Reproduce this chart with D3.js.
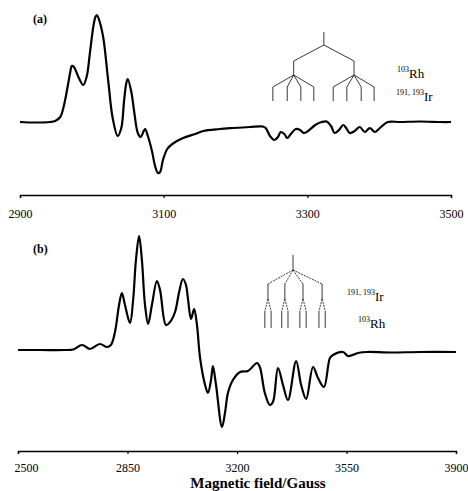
<!DOCTYPE html>
<html>
<head>
<meta charset="utf-8">
<script src="https://cdn.jsdelivr.net/npm/d3@7"></script>
<style>
body { margin: 0; background: #fff; }
text { font-family: "Liberation Serif", "Times New Roman", serif; fill: #000; }
</style>
</head>
<body>
<script>
// Panel (a): field (Gauss) and derivative signal (arb. units, baseline 0)
var fieldA = [2900, 2921, 2942, 2949, 2956, 2961, 2967, 2970, 2972, 2975, 2982, 2988, 2993, 2997, 3002, 3005, 3007, 3011,
    3016, 3023, 3029, 3036, 3041, 3045, 3048, 3050, 3055, 3059, 3064, 3068, 3074, 3078, 3084, 3088, 3092, 3095, 3099,
    3105, 3112, 3127, 3144, 3155, 3178, 3197, 3220, 3238, 3242, 3248, 3254, 3259, 3263, 3268, 3272, 3277,
    3284, 3290, 3295, 3301, 3311, 3320, 3327, 3333, 3338, 3344, 3350, 3354, 3359, 3366, 3373, 3380, 3387,
    3394, 3401, 3412, 3429, 3457, 3485, 3500];
var signalA = [0, -0.05, 0, 0.1, 0.5, 1.6, 3.8, 5.0, 5.6, 5.5, 4.4, 3.7, 4.6, 6.7, 9.5, 10.5, 10.7, 10.0,
    8.4, 4.0, 0.4, -1.4, -0.6, 2.2, 3.9, 4.3, 3.0, 1.0, -1.1, -1.5, -0.7, -1.4, -3.0, -4.4, -5.1, -5.0, -3.8,
    -2.7, -2.2, -1.6, -1.2, -0.9, -0.7, -0.6, -0.5, -0.45, -0.6, -1.4, -1.8, -1.5, -1.0, -1.2, -1.6, -1.2,
    -0.7, -0.8, -1.1, -0.9, -0.3, 0, 0.05, -0.4, -1.1, -0.8, -0.3, -0.6, -1.1, -0.9, -0.5, -1.0, -0.6,
    -1.0, -0.6, 0, 0, 0.05, 0, 0];
var ticksA = [2900, 3100, 3300, 3500];

// Panel (b)
var fieldB = [2500, 2570, 2650, 2676, 2705, 2730, 2762, 2784, 2797, 2810, 2823, 2832, 2842, 2858, 2868,
    2877, 2887, 2896, 2906, 2916, 2928, 2944, 2954, 2973, 2986, 3002, 3015, 3027, 3037, 3043, 3053, 3063,
    3072, 3082, 3098, 3107, 3117, 3123, 3133, 3152, 3162, 3171, 3187, 3210, 3235, 3264, 3273, 3289, 3305,
    3315, 3331, 3347, 3363, 3389, 3405, 3421, 3443, 3459, 3478, 3497, 3507, 3539, 3555, 3587, 3615, 3689,
    3785, 3900];
var signalB = [0, 0, 0, 0.05, 0.5, 0.1, 0.6, 0.3, 0.5, 1.8, 4.5, 5.7, 4.5, 2.7, 5.0,
    9.0, 11.4, 9.0, 4.5, 2.6, 4.5, 6.9, 6.0, 2.5, 2.8, 3.8, 5.8, 7.1, 6.5, 5.2, 3.1, 4.1,
    2.5, -0.8, -3.5, -4.3, -3.0, -1.6, -3.5, -7.7, -6.2, -4.3, -3.0, -2.2, -2.1, -1.3, -1.7, -4.3, -5.5,
    -5.2, -1.8, -3.5, -5.0, -1.1, -3.5, -4.9, -1.7, -2.8, -3.7, -0.8, -0.5, -0.2, -0.6, -0.3, -0.2, -0.25,
    -0.2, -0.2];
var ticksB = [2500, 2850, 3200, 3550, 3900];

// splitting diagrams, segments [field1, signal1, field2, signal2]
var treeA = [
    [3323, 9.0, 3323, 7.7], [3323, 7.7, 3281, 6.1], [3323, 7.7, 3365, 6.1],
    [3281, 6.1, 3281, 4.7], [3365, 6.1, 3365, 4.7],
    [3281, 4.7, 3252, 3.5], [3281, 4.7, 3272, 3.5], [3281, 4.7, 3291, 3.5], [3281, 4.7, 3309, 3.5],
    [3365, 4.7, 3336, 3.5], [3365, 4.7, 3355, 3.5], [3365, 4.7, 3375, 3.5], [3365, 4.7, 3393, 3.5],
    [3252, 3.5, 3252, 2.1], [3272, 3.5, 3272, 2.1], [3291, 3.5, 3291, 2.1], [3309, 3.5, 3309, 2.1],
    [3336, 3.5, 3336, 2.1], [3355, 3.5, 3355, 2.1], [3375, 3.5, 3375, 2.1], [3393, 3.5, 3393, 2.1]
];
var treeBroot = [3379, 9.5, 3379, 8.0];
var treeBmid = [3299, 3353, 3411, 3472];
var treeBsplit = 10; // half spacing of the Rh doublets (G)
var treeBlevels = [8.0, 6.6, 5.1, 3.9, 2.2];

var svg = d3.select("body").append("svg")
    .attr("width", 468)
    .attr("height", 491)
    .style("display", "block");

svg.append("rect").attr("width", 468).attr("height", 491).attr("fill", "#fff");

function drawAxis(x, yPos, ticks, pad) {
    var g = svg.append("g")
        .attr("transform", "translate(0," + yPos + ")")
        .call(d3.axisBottom(x).tickValues(ticks).tickFormat(d3.format("d"))
            .tickSize(3).tickSizeOuter(3).tickPadding(pad));
    g.select(".domain").attr("stroke-width", 1.4);
    g.selectAll(".tick line").attr("stroke-width", 1.2);
    g.selectAll(".tick text")
        .style("font-family", "'Liberation Serif', serif")
        .style("font-size", "12px");
    return g;
}

function drawCurve(x, y, fields, signals) {
    var line = d3.line()
        .x(function(d, i) { return x(fields[i]); })
        .y(function(d) { return y(d); })
        .curve(d3.curveCatmullRom.alpha(0.5));
    svg.append("path")
        .datum(signals)
        .attr("d", line)
        .attr("fill", "none")
        .attr("stroke", "#000")
        .attr("stroke-width", 2.2)
        .attr("stroke-linejoin", "round");
}

function isotope(xp, yp, sup, main) {
    var t = svg.append("text").attr("x", xp).attr("y", yp);
    t.append("tspan").attr("font-size", 8).attr("dy", -6).text(sup);
    t.append("tspan").attr("font-size", 13).attr("dy", 6).text(main);
}

// ---- panel (a)
var xA = d3.scaleLinear().domain([2900, 3500]).range([20, 451]);
var yA = d3.scaleLinear().domain([0, 10]).range([122, 22]);
drawAxis(xA, 195, ticksA, 11);
drawCurve(xA, yA, fieldA, signalA);

svg.append("g").selectAll("line")
    .data(treeA)
    .enter()
    .append("line")
        .attr("x1", function(d) { return xA(d[0]); })
        .attr("y1", function(d) { return yA(d[1]); })
        .attr("x2", function(d) { return xA(d[2]); })
        .attr("y2", function(d) { return yA(d[3]); })
        .attr("stroke", "#222")
        .attr("stroke-width", 0.9);

svg.append("text").attr("x", 33).attr("y", 23)
    .attr("font-size", 12).attr("font-weight", "bold").text("(a)");
isotope(397, 78, "103", "Rh");
isotope(396, 101, "191, 193", "Ir");

// ---- panel (b)
var xB = d3.scaleLinear().domain([2500, 3900]).range([18, 456]);
var yB = d3.scaleLinear().domain([0, 10]).range([350, 250]);
var axB = drawAxis(xB, 451, ticksB, 9);
// first label sits a little right of its tick in the original
axB.selectAll(".tick text").filter(function(d) { return d === 2500; }).attr("dx", 8);
drawCurve(xB, yB, fieldB, signalB);

var segB = [treeBroot];
treeBmid.forEach(function(m) {
    segB.push([treeBroot[2], treeBlevels[0], m, treeBlevels[1]]);
    segB.push([m, treeBlevels[1], m, treeBlevels[2]]);
    [-1, 1].forEach(function(s) {
        segB.push([m, treeBlevels[2], m + s * treeBsplit, treeBlevels[3]]);
        segB.push([m + s * treeBsplit, treeBlevels[3], m + s * treeBsplit, treeBlevels[4]]);
    });
});
svg.append("g").selectAll("line")
    .data(segB)
    .enter()
    .append("line")
        .attr("x1", function(d) { return xB(d[0]); })
        .attr("y1", function(d) { return yB(d[1]); })
        .attr("x2", function(d) { return xB(d[2]); })
        .attr("y2", function(d) { return yB(d[3]); })
        .attr("stroke", "#222")
        .attr("stroke-width", 0.9)
        .attr("stroke-dasharray", function(d) { return d[0] !== d[2] ? "2,1" : null; });

svg.append("text").attr("x", 33).attr("y", 253)
    .attr("font-size", 12).attr("font-weight", "bold").text("(b)");
isotope(347, 301, "191, 193", "Ir");
isotope(358, 328, "103", "Rh");

svg.append("text")
    .attr("x", 258).attr("y", 488)
    .attr("text-anchor", "middle")
    .attr("font-size", 15).attr("font-weight", "bold")
    .text("Magnetic field/Gauss");
</script>
</body>
</html>
